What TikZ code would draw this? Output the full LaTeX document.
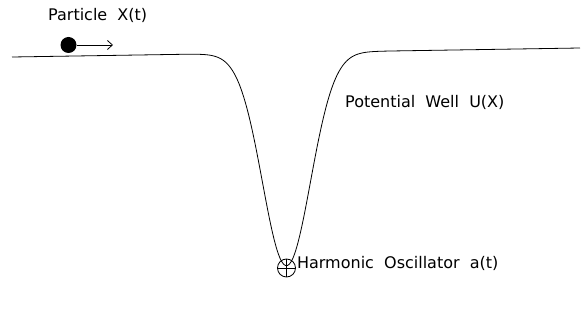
\documentclass[tikz,border=0pt]{standalone}
\usepackage{fontspec}
\setmainfont{DejaVu Sans}
\usetikzlibrary{arrows.meta, positioning}

\begin{document}
\begin{tikzpicture}[
    x=1pt, y=-1pt,
    lbl/.style={font=\fontsize{16}{18}\selectfont, inner sep=0pt, anchor=west},
    curve/.style={line width=0.8pt, line join=round},
    arrow/.style={line width=0.8pt, -{Straight Barb[length=5pt, width=9pt]}}
]
\useasboundingbox (0,0) rectangle (587,320);

% Potencial
\draw [curve] plot[domain=12:580, samples=300, smooth]
    (\x, {57 - 9*(\x-12)/568 + 213*exp(-((\x-286.5)/34)^2)});

% Partícula
\node (particle) [circle, fill=black, minimum size=16pt, inner sep=0pt] at (68.5,45) {};
\coordinate (tip) at (113,45);
\draw [arrow] (particle.east) -- (tip);
\node (plabel) [lbl] at (48,15) {Particle\ \ X(t)};

% Oscilador
\node (osc) [circle, draw, line width=0.8pt, minimum size=18pt, inner sep=0pt] at (286.5,268) {};
\draw [line width=0.8pt] (osc.north) -- (osc.south) (osc.west) -- (osc.east);
\node (olabel) [lbl, right=1pt of osc.east, yshift=5pt] {Harmonic\ \ Oscillator\ \ a(t)};

% Etiqueta del pozo
\node (wlabel) [lbl] at (345,102) {Potential\ \ Well\ \ U(X)};

\end{tikzpicture}
\end{document}
